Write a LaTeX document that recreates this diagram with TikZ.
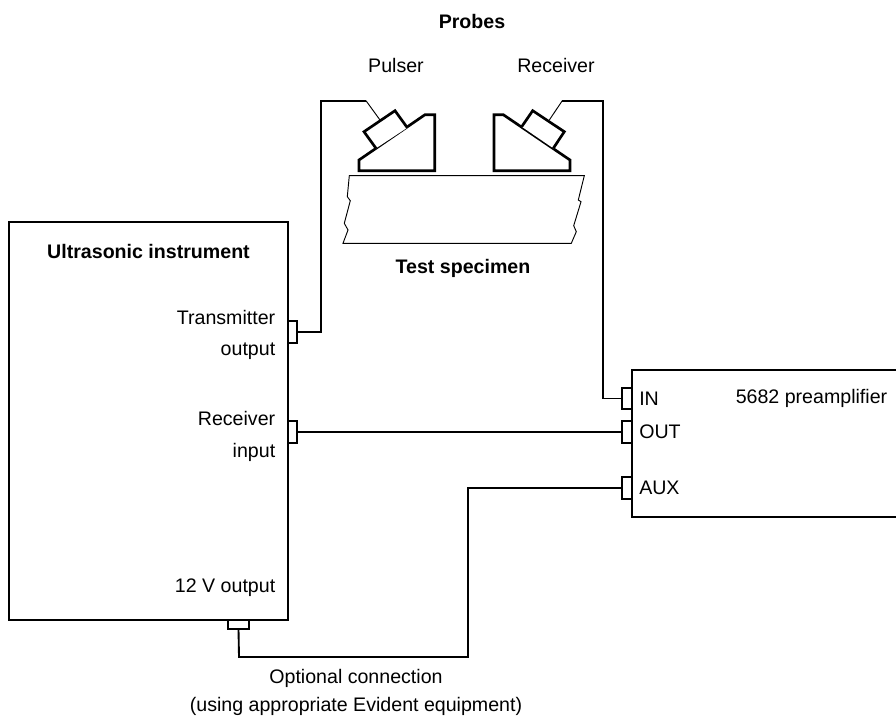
\documentclass[tikz,border=0pt]{standalone}
\usepackage{fontspec}
\setmainfont{Liberation Sans}
\tikzset{
  devicebox/.style={draw, line width=1.4pt, fill=white, inner sep=0pt, outer sep=0pt},
  jack/.style={draw, line width=1.4pt, fill=white, inner sep=0pt, outer sep=0pt},
  vjack/.style={jack, minimum width=7pt, minimum height=16pt},
  hjack/.style={jack, minimum width=16pt, minimum height=6.5pt},
  wire/.style={line width=1.4pt, line join=miter},
  thinwire/.style={line width=0.7pt},
  probe/.style={line width=2pt, line join=miter, fill=white},
  label/.style={font=\fontsize{14.7}{21}\selectfont, align=center, inner sep=0pt},
  rlabel/.style={label, font=\fontsize{14.7}{23.6}\selectfont, align=right, anchor=east},
  title/.style={label, font=\fontsize{14.7}{21}\selectfont\bfseries}
}
\begin{document}
\begin{tikzpicture}[x=0.75pt, y=-0.75pt]
  \useasboundingbox (0,0) rectangle (896,718);

  % instrument and preamplifier
  \node[devicebox, minimum width=209.25pt, minimum height=298.5pt] (instrument) at (148.5,421) {};
  \node[devicebox, minimum width=200pt, minimum height=110.25pt] (preamp) at (765,443.5) {};

  % connectors
  \node[vjack] (txout) at (292.5,332) {};
  \node[vjack] (rxin) at (292.5,432) {};
  \node[hjack] (twelve) at (238.5,624.5) {};
  \node[vjack] (in) at (627,398.5) {};
  \node[vjack] (out) at (627,432) {};
  \node[vjack] (aux) at (627,488) {};

  % probes
  \draw[probe] (359,160) -- (425,114.7) -- (434.7,114.7) -- (434.7,170.7) -- (359,170.7) -- cycle;
  \draw[probe] (376,148.3) -- (364,131.7) -- (395,110.7) -- (407.3,127.7);
  \draw[probe] (494,114.7) -- (503.3,114.7) -- (570,160) -- (570,170.7) -- (494,170.7) -- cycle;
  \draw[probe] (521.7,126.7) -- (532.7,110.7) -- (564.3,131.7) -- (553.3,148.3);
  \coordinate (pulserend) at (380,120);
  \coordinate (pulserbend) at (366,100.7);
  \coordinate (receiverend) at (549.3,120);
  \coordinate (receiverbend) at (562.3,100.7);

  % specimen
  \draw[thinwire] (349.3,175.7) -- (584.3,175.7) -- (578.3,200) -- (581,201.7) -- (573.7,225.7)
    -- (576.3,231.7) -- (571.3,243.3) -- (343,243.3) -- (348,230) -- (344.3,223.3)
    -- (350.3,200.7) -- (347.3,196.7) -- cycle;

  % wires
  \draw[thinwire] (pulserend) -- (pulserbend);
  \draw[thinwire] (receiverend) -- (receiverbend);
  \draw[wire] (txout.east) -- (320.7,332) -- (320.7,100.7) -- (pulserbend);
  \draw[wire] (in.west) -- (603,398.5) -- (603,100.7) -- (receiverbend);
  \draw[wire] (rxin.east) -- (out.west);
  \draw[wire] (aux.west) -- (468,488) -- (468,657) -- (239,657) -- (twelve.south);

  % labels
  \node[title] (probes) at (472,21) {Probes};
  \node[label] (pulser) at (396,65) {Pulser};
  \node[label] (receiver) at (556,65) {Receiver};
  \node[title] (specimen) at (463,268.5) {Test specimen};
  \node[title] (instrumentlabel) at (148.5,251) {Ultrasonic instrument};
  \node[rlabel] (txlabel) at (275.5,335) {Transmitter\\output};
  \node[rlabel] (rxlabel) at (275.5,436.5) {Receiver\\input};
  \node[rlabel] (twelvelabel) at (275.5,588) {12 V output};
  \node[label, anchor=west] (inlabel) at (639,399) {IN};
  \node[label, anchor=west] (outlabel) at (639,432) {OUT};
  \node[label, anchor=west] (auxlabel) at (639,488) {AUX};
  \node[label, anchor=east] (preamplabel) at (887.5,398) {5682 preamplifier};
  \node[label] (optional) at (356,692) {Optional connection\\(using appropriate Evident equipment)};
\end{tikzpicture}
\end{document}
